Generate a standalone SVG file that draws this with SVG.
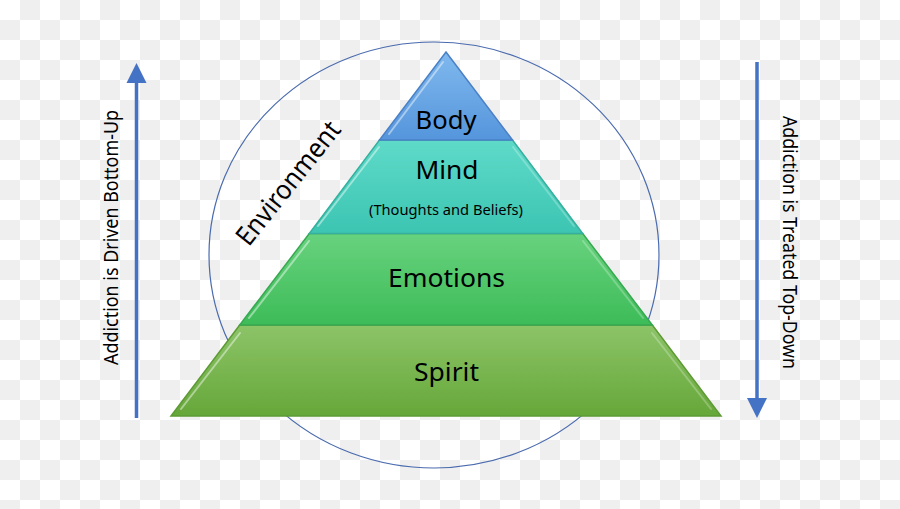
<svg xmlns="http://www.w3.org/2000/svg" width="900" height="509" viewBox="0 0 900 509">
<defs>
<pattern id="cb" width="40" height="40" patternUnits="userSpaceOnUse">
<rect width="40" height="40" fill="#ffffff"/>
<rect x="20" y="0" width="20" height="20" fill="#efefef"/>
<rect x="0" y="20" width="20" height="20" fill="#efefef"/>
</pattern>
<linearGradient id="gBody" x1="0" y1="0" x2="0" y2="1">
<stop offset="0" stop-color="#80b9ee"/>
<stop offset="1" stop-color="#5595dc"/>
</linearGradient>
<linearGradient id="gMind" x1="0" y1="0" x2="0" y2="1">
<stop offset="0" stop-color="#5fdac9"/>
<stop offset="1" stop-color="#3cc5b2"/>
</linearGradient>
<linearGradient id="gEmo" x1="0" y1="0" x2="0" y2="1">
<stop offset="0" stop-color="#68d27e"/>
<stop offset="1" stop-color="#3dbc58"/>
</linearGradient>
<linearGradient id="gSpirit" x1="0" y1="0" x2="0" y2="1">
<stop offset="0" stop-color="#8cc468"/>
<stop offset="1" stop-color="#66a739"/>
</linearGradient>
<marker id="head" markerUnits="userSpaceOnUse" markerWidth="20" markerHeight="20" refX="0" refY="10" orient="auto" overflow="visible">
<path d="M0,0 L20,10 L0,20 Z" fill="#4472c4"/>
</marker>
<style>
.lbl{font-family:"Noto Sans","Open Sans","Liberation Sans",sans-serif;fill:#000;text-anchor:middle}
.big{font-size:26px}
.side{font-size:20px}
.arrow{stroke:#4472c4;stroke-width:3.5;fill:none;marker-end:url(#head)}
.hl{stroke:#ffffff;stroke-width:2;stroke-opacity:0.45;fill:none;stroke-linecap:round}
.sh{stroke:#ffffff;stroke-width:2;stroke-opacity:0.25;fill:none;stroke-linecap:round}
</style>
</defs>
<rect width="900" height="509" fill="url(#cb)"/>

<g id="environment">
<ellipse cx="434" cy="255" rx="225" ry="213" fill="none" stroke="#4a6bae" stroke-width="1.2"/>
<text class="lbl" font-size="27" transform="translate(288,183) rotate(-51.5)" dy="0.35em" textLength="150" lengthAdjust="spacingAndGlyphs">Environment</text>
</g>

<g id="spirit">
<polygon points="239.7,325 652.3,325 721,416 171,416" fill="url(#gSpirit)" stroke="#5e9a35" stroke-width="1.5"/>
<line class="hl" x1="181" y1="409" x2="240" y2="333"/>
<line class="sh" x1="711" y1="409" x2="652" y2="333"/>
<text class="lbl big" x="446.5" y="381" textLength="65" lengthAdjust="spacingAndGlyphs">Spirit</text>
</g>

<g id="emotions">
<polygon points="309.3,233.5 582.7,233.5 652.3,325 239.7,325" fill="url(#gEmo)" stroke="#37a851" stroke-width="1.5"/>
<line class="hl" x1="249" y1="318" x2="309" y2="241"/>
<line class="sh" x1="643" y1="318" x2="583" y2="241"/>
<text class="lbl big" x="446.5" y="286.7" textLength="117" lengthAdjust="spacingAndGlyphs">Emotions</text>
</g>

<g id="mind">
<polygon points="379.5,140 512.5,140 582.7,233.5 309.3,233.5" fill="url(#gMind)" stroke="#36b09e" stroke-width="1.5"/>
<line class="hl" x1="318" y1="226" x2="379" y2="147"/>
<line class="sh" x1="574" y1="226" x2="513" y2="147"/>
<text class="lbl big" x="447" y="179.3" textLength="63" lengthAdjust="spacingAndGlyphs">Mind</text>
<text class="lbl" x="446" y="215" font-size="14.5" textLength="154" lengthAdjust="spacingAndGlyphs">(Thoughts and Beliefs)</text>
</g>

<g id="body">
<polygon points="446,52 512.5,140 379.5,140" fill="url(#gBody)" stroke="#4a80c6" stroke-width="1.5"/>
<line class="hl" x1="389" y1="134" x2="443" y2="62"/>
<text class="lbl big" x="446" y="129.3" textLength="61" lengthAdjust="spacingAndGlyphs">Body</text>
</g>

<g id="connectors">
<line class="arrow" x1="136.5" y1="418" x2="136.5" y2="83"/>
<line class="arrow" x1="757" y1="62" x2="757" y2="398"/>
</g>

<g id="label-left">
<text class="lbl side" transform="translate(111,237.5) rotate(-90)" dy="0.35em" textLength="255" lengthAdjust="spacingAndGlyphs">Addiction is Driven Bottom-Up</text>
</g>
<g id="label-right">
<text class="lbl side" transform="translate(790,242.5) rotate(90)" dy="0.35em" textLength="253" lengthAdjust="spacingAndGlyphs">Addiction is Treated Top-Down</text>
</g>
</svg>
